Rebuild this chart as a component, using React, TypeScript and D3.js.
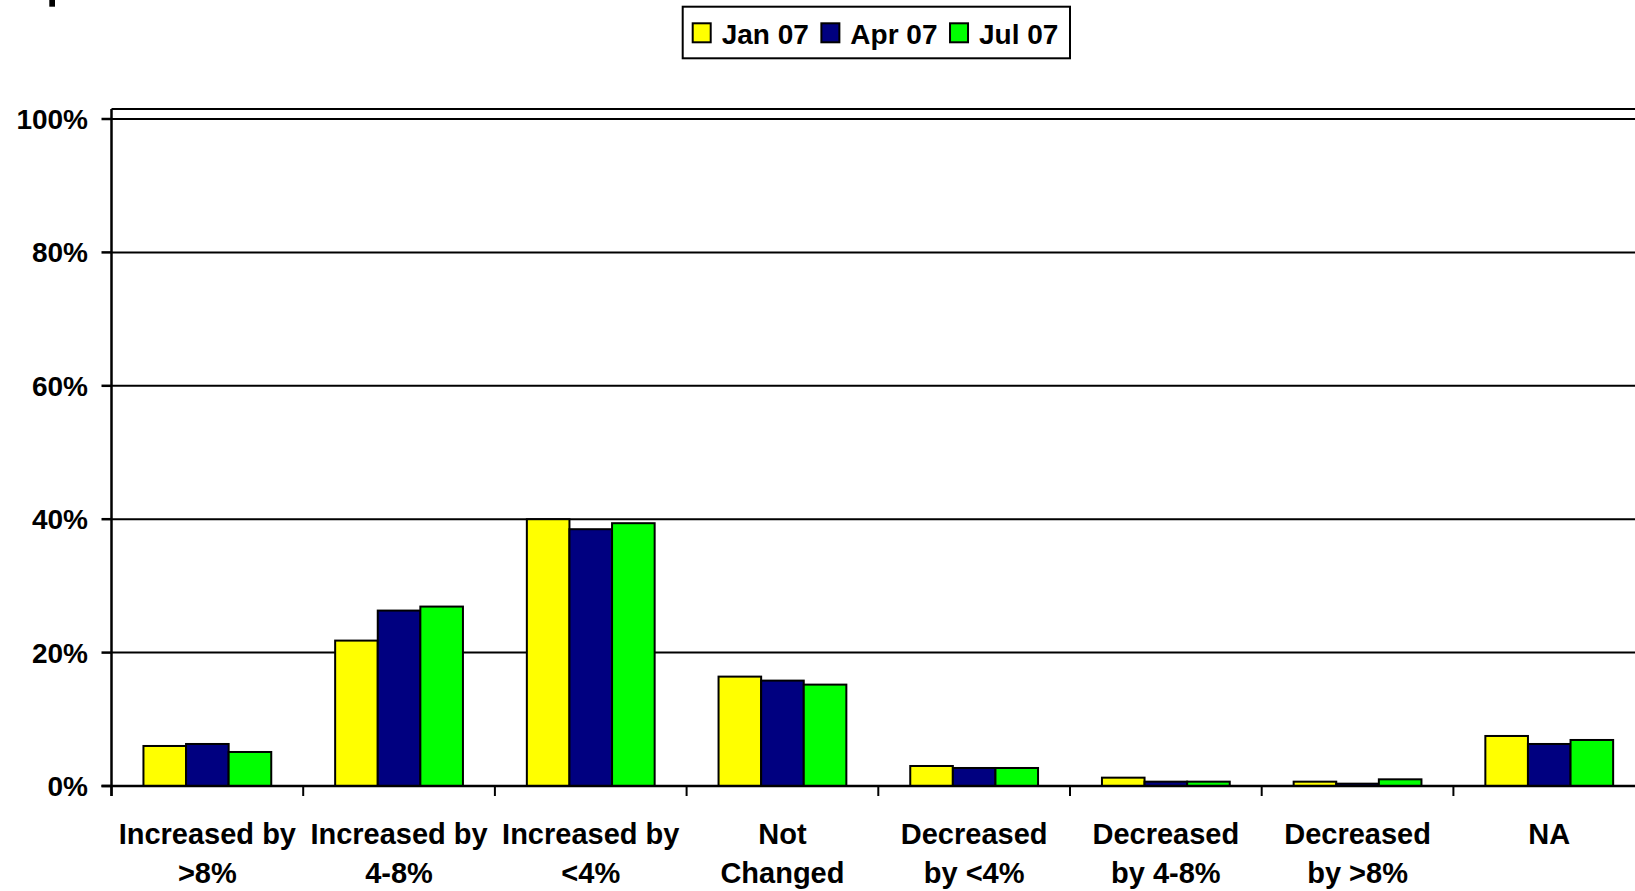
import React, { useEffect, useRef } from "react";
import * as d3 from "d3";

const categories: string[][] = [
  ["Increased by", ">8%"],
  ["Increased by", "4-8%"],
  ["Increased by", "<4%"],
  ["Not", "Changed"],
  ["Decreased", "by <4%"],
  ["Decreased", "by 4-8%"],
  ["Decreased", "by >8%"],
  ["NA"],
];
const seriesNames = ["Jan 07", "Apr 07", "Jul 07"];
const seriesColors = ["#FFFF00", "#000080", "#00FF00"];
const jan07 = [0.06, 0.218, 0.40, 0.164, 0.030, 0.0125, 0.0065, 0.075];
const apr07 = [0.063, 0.263, 0.385, 0.158, 0.027, 0.0065, 0.0035, 0.063];
const jul07 = [0.051, 0.269, 0.394, 0.152, 0.027, 0.0065, 0.010, 0.069];
const yTicks = [0, 0.2, 0.4, 0.6, 0.8, 1.0];

const W = 1635;
const H = 891;
const FONT = "'Liberation Sans', Arial, Helvetica, sans-serif";

export default function App() {
  const ref = useRef<SVGSVGElement | null>(null);

  useEffect(() => {
    document.body.style.margin = "0";
    document.body.style.overflow = "hidden";
    const svg = d3.select(ref.current);
    svg.selectAll("*").remove();

    const x0 = 111.5;
    const catW = 191.7;
    const yBase = 786;
    const yTop = 119;
    const plotTop = 109;

    const x = d3
      .scaleBand<number>()
      .domain(categories.map((_, i) => i))
      .range([x0, x0 + catW * categories.length])
      .paddingInner(0)
      .paddingOuter(0);
    const barW = x.bandwidth() / 4.5;
    const xs = d3
      .scaleBand<number>()
      .domain(seriesNames.map((_, i) => i))
      .range([barW * 0.75, x.bandwidth() - barW * 0.75])
      .padding(0);
    const y = d3.scaleLinear().domain([0, 1]).range([yBase, yTop]);

    const values = [jan07, apr07, jul07];

    // stray mark at top-left
    svg.append("rect").attr("x", 49.3).attr("y", 0).attr("width", 5.7).attr("height", 6.7).attr("fill", "#000");

    // plot top border
    svg
      .append("line")
      .attr("x1", x0)
      .attr("x2", W)
      .attr("y1", plotTop)
      .attr("y2", plotTop)
      .attr("stroke", "#000")
      .attr("stroke-width", 2);

    // gridlines
    svg
      .append("g")
      .selectAll("line")
      .data(yTicks.filter((t) => t > 0))
      .join("line")
      .attr("x1", x0)
      .attr("x2", W)
      .attr("y1", (d) => y(d))
      .attr("y2", (d) => y(d))
      .attr("stroke", "#000")
      .attr("stroke-width", 2);

    // bars
    values.forEach((vals, s) => {
      svg
        .append("g")
        .selectAll("rect")
        .data(vals)
        .join("rect")
        .attr("x", (_, i) => (x(i) as number) + (xs(s) as number))
        .attr("y", (d) => y(d))
        .attr("width", xs.bandwidth())
        .attr("height", (d) => yBase - y(d))
        .attr("fill", seriesColors[s])
        .attr("stroke", "#000")
        .attr("stroke-width", 2);
    });

    // y axis line
    svg
      .append("line")
      .attr("x1", x0)
      .attr("x2", x0)
      .attr("y1", plotTop)
      .attr("y2", yBase + 10)
      .attr("stroke", "#000")
      .attr("stroke-width", 2.5);

    // y ticks + labels
    const yt = svg.append("g");
    yt.selectAll("line")
      .data(yTicks)
      .join("line")
      .attr("x1", x0 - 10)
      .attr("x2", x0)
      .attr("y1", (d) => y(d))
      .attr("y2", (d) => y(d))
      .attr("stroke", "#000")
      .attr("stroke-width", 2.5);
    yt.selectAll("text")
      .data(yTicks)
      .join("text")
      .attr("x", 88)
      .attr("y", (d) => y(d) + 10)
      .attr("text-anchor", "end")
      .attr("font-family", FONT)
      .attr("font-weight", "bold")
      .attr("font-size", 28)
      .text((d) => d3.format(".0%")(d));

    // x axis line
    svg
      .append("line")
      .attr("x1", x0 - 10)
      .attr("x2", W)
      .attr("y1", yBase)
      .attr("y2", yBase)
      .attr("stroke", "#000")
      .attr("stroke-width", 2.5);

    // category ticks
    svg
      .append("g")
      .selectAll("line")
      .data(categories.map((_, i) => i))
      .join("line")
      .attr("x1", (i) => x(i) as number)
      .attr("x2", (i) => x(i) as number)
      .attr("y1", yBase)
      .attr("y2", yBase + 10)
      .attr("stroke", "#000")
      .attr("stroke-width", 2);

    // category labels
    const cl = svg
      .append("g")
      .selectAll("text")
      .data(categories)
      .join("text")
      .attr("text-anchor", "middle")
      .attr("font-family", FONT)
      .attr("font-weight", "bold")
      .attr("font-size", 29);
    cl.each(function (lines, i) {
      const t = d3.select(this);
      lines.forEach((ln, k) => {
        t.append("tspan")
          .attr("x", (x(i) as number) + x.bandwidth() / 2)
          .attr("y", 844 + k * 39)
          .text(ln);
      });
    });

    // legend
    const lg = svg.append("g");
    lg.append("rect")
      .attr("x", 682.7)
      .attr("y", 6.7)
      .attr("width", 1070 - 682.7)
      .attr("height", 58.3 - 6.7)
      .attr("fill", "#fff")
      .attr("stroke", "#000")
      .attr("stroke-width", 2);
    let lx = 692.7;
    seriesNames.forEach((name, s) => {
      lg.append("rect")
        .attr("x", lx)
        .attr("y", 23.3)
        .attr("width", 18)
        .attr("height", 19)
        .attr("fill", seriesColors[s])
        .attr("stroke", "#000")
        .attr("stroke-width", 2);
      const txt = lg
        .append("text")
        .attr("x", lx + 29)
        .attr("y", 44)
        .attr("font-family", FONT)
        .attr("font-weight", "bold")
        .attr("font-size", 28)
        .text(name);
      const w = (txt.node() as SVGTextElement).getComputedTextLength();
      lx = lx + 29 + w + 12.5;
    });
  }, []);

  return <svg ref={ref} width={W} height={H} style={{ display: "block", background: "#fff" }} />;
}
